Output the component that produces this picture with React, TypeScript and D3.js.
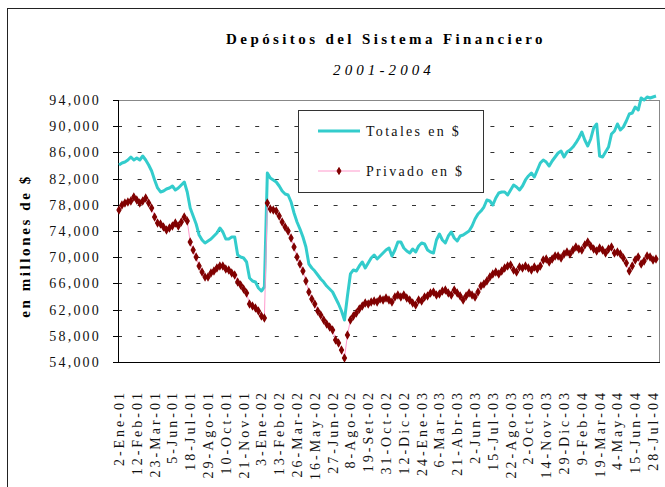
import React from "react";
import * as d3 from "d3";

const W = 665;
const H = 487;

const tickLabels = [
  "2-Ene-01", "12-Feb-01", "23-Mar-01", "5-Jun-01", "18-Jul-01", "29-Ago-01",
  "10-Oct-01", "21-Nov-01", "3-Ene-02", "13-Feb-02", "26-Mar-02", "16-May-02",
  "27-Jun-02", "8-Ago-02", "19-Set-02", "31-Oct-02", "12-Dic-02", "24-Ene-03",
  "6-Mar-03", "21-Abr-03", "2-Jun-03", "15-Jul-03", "22-Ago-03", "2-Oct-03",
  "14-Nov-03", "29-Dic-03", "9-Feb-04", "19-Mar-04", "4-May-04", "15-Jun-04",
  "28-Jul-04",
];
const POINTS_PER_LABEL = 6;

const totales = [
  84080, 84380, 84530, 84840, 85300, 84840, 85150, 84840, 85450, 84840,
  84080, 83160, 81790, 80570, 79960, 80110, 80410, 80570, 80870, 80260,
  80570, 81020, 81480, 79960, 77510, 76290, 75070, 73390, 72630, 72170,
  72470, 72780, 73240, 73700, 74460, 73850, 72780, 72780, 73080, 73080,
  70340, 70030, 69880, 69270, 66830, 66370, 66210, 65300, 64840, 65450,
  82860, 82090, 81790, 81480, 80870, 80110, 79650, 79500, 78430, 76750,
  75380, 74310, 73080, 71560, 68960, 68350, 67890, 67280, 66670, 66210,
  65600, 65150, 64690, 63770, 62860, 61790, 60410, 64080, 67440, 68050,
  67890, 68660, 69270, 68350, 69120, 69880, 70340, 69730, 70180, 70640,
  71100, 71410, 70180, 71100, 72320, 72320, 71410, 70950, 70640, 71250,
  70790, 71710, 72170, 72020, 71100, 70790, 70640, 72630, 73540, 72630,
  72170, 73240, 73850, 72930, 72470, 73240, 73390, 73700, 74000, 74760,
  75830, 76600, 77050, 77660, 78730, 78580, 77970, 79040, 79800, 79960,
  79960, 79500, 80260, 81020, 80720, 80260, 80870, 81790, 82400, 82860,
  82240, 83310, 84380, 84840, 84530, 83920, 84690, 85300, 85910, 86210,
  85300, 86060, 86370, 86820, 87440, 88200, 89110, 87890, 86980, 88050,
  89730, 90340, 85450, 85300, 86060, 86820, 88810, 89270, 90340, 89420,
  89880, 90790, 91860, 92020, 92930, 92470, 94310, 94000, 94460, 94310,
  94460, 94610,
];

const privado = [
  77210, 77970, 78280, 78430, 78580, 79190, 78730, 78280, 78580, 79040,
  78280, 77510, 76140, 75220, 75070, 74610, 74150, 74460, 74760, 75220,
  74760, 75380, 76140, 75530, 72320, 71100, 70030, 68660, 67740, 66980,
  66980, 67590, 67890, 68350, 68660, 68660, 68200, 68050, 67590, 67280,
  66210, 65760, 65150, 64540, 62860, 62550, 62250, 61790, 61020, 60720,
  78280, 77360, 77210, 77050, 76290, 75380, 74610, 74000, 72930, 71560,
  70030, 68960, 67890, 66370, 64690, 63620, 62860, 61790, 61180, 60410,
  59800, 59340, 58890, 57360, 56900, 55830, 54610, 58120, 60410, 61020,
  61480, 62090, 62550, 63010, 62860, 63160, 63310, 63160, 63620, 63470,
  63770, 63470, 63160, 63920, 64230, 63920, 64230, 63770, 63470, 63010,
  62700, 63470, 63310, 63920, 64080, 64540, 64690, 64230, 64380, 64840,
  64990, 64540, 64230, 64990, 64540, 64080, 63470, 64080, 64540, 64230,
  63920, 64690, 65600, 65910, 66370, 66980, 67440, 67740, 67440, 67890,
  68350, 68660, 68810, 68050, 67740, 68500, 68350, 68660, 68350, 68050,
  68500, 68200, 68660, 69570, 69730, 69270, 69730, 70180, 70180, 69880,
  70490, 70790, 70490, 71100, 71560, 71250, 71100, 71860, 72320, 71710,
  71250, 70950, 71410, 71100, 70640, 71250, 71560, 70640, 70790, 70490,
  69880, 69120, 67890, 68660, 69570, 70030, 68960, 69420, 70180, 70030,
  69570, 69730,
];

const yTicks = [54000, 58000, 62000, 66000, 70000, 74000, 78000, 82000, 86000, 90000, 94000];

const TITLE = "Depósitos del Sistema Financiero";
const SUBTITLE = "2001-2004";
const Y_TITLE = "en millones de $";
const SERIES_NAMES = ["Totales en $", "Privado en $"];

const CYAN = "#33CCCC";
const DARKRED = "#800000";
const PINK = "#FF99CC";
const FONT = "'Liberation Serif', 'DejaVu Serif', serif";

const PL = 118, PR = 659, PT = 100, PB = 362;

export default function App() {
  const N = totales.length;
  const x = d3.scaleLinear().domain([0, N - 1]).range([PL + 1, PR - 3]);
  const y = d3.scaleLinear().domain([54000, 94000]).range([PB, PT]);
  const line = d3.line<number>().x((_, i) => x(i)).y((d) => y(d));
  const fmt = d3.format(",");
  const diamond = d3.symbol().type(d3.symbolDiamond).size(14)() as string;

  return (
    <svg
      width={W}
      height={H}
      style={{ position: "absolute", left: 0, top: 0, background: "#fff" }}
      fontFamily={FONT}
    >
      <rect x={7.5} y={8.5} width={700} height={600} fill="#fff" stroke="#222" strokeWidth={1} />
      {/* title */}
      <text x={386} y={44} textAnchor="middle" fontSize={15} fontWeight="bold" letterSpacing={3.4} fill="#000">
        {TITLE}
      </text>
      <text x={384} y={75} textAnchor="middle" fontSize={15} fontStyle="italic" letterSpacing={4.1} fill="#000">
        {SUBTITLE}
      </text>
      {/* y title */}
      <text
        transform={`translate(30,246) rotate(-90)`}
        textAnchor="middle"
        fontSize={15}
        fontWeight="bold"
        letterSpacing={2.6}
        fill="#000"
      >
        {Y_TITLE}
      </text>
      {/* gridlines */}
      {yTicks.filter((t) => t !== 54000 && t !== 94000).map((t) => (
        <line
          key={"g" + t}
          x1={PL}
          x2={PR}
          y1={Math.round(y(t)) + 0.5}
          y2={Math.round(y(t)) + 0.5}
          stroke="#333"
          strokeWidth={1}
          strokeDasharray="4 15.6"
        />
      ))}
      {/* plot border */}
      <line x1={PL} x2={PR} y1={PT + 0.5} y2={PT + 0.5} stroke="#888" />
      <line x1={PR + 0.5} x2={PR + 0.5} y1={PT} y2={PB} stroke="#888" />
      {/* axes */}
      <line x1={PL + 0.5} x2={PL + 0.5} y1={PT} y2={PB + 1} stroke="#000" />
      <line x1={PL} x2={PR + 1} y1={PB + 0.5} y2={PB + 0.5} stroke="#000" />
      {yTicks.map((t) => (
        <g key={"t" + t}>
          <line x1={PL - 5} x2={PL} y1={Math.round(y(t)) + 0.5} y2={Math.round(y(t)) + 0.5} stroke="#000" />
          <text x={101} y={y(t)} dy="0.35em" textAnchor="end" fontSize={14} letterSpacing={2.2} fill="#111">
            {fmt(t)}
          </text>
        </g>
      ))}
      {tickLabels.map((lab, k) => (
        <text
          key={lab}
          transform={`translate(${x(k * POINTS_PER_LABEL)},390) rotate(-90)`}
          textAnchor="end"
          dy="0.35em"
          fontSize={14}
          letterSpacing={3}
          fill="#111"
        >
          {lab}
        </text>
      ))}
      {/* series */}
      <path d={line(totales) || ""} fill="none" stroke={CYAN} strokeWidth={3} strokeLinejoin="round" />
      <path d={line(privado) || ""} fill="none" stroke={PINK} strokeWidth={1} />
      {privado.map((v, i) => (
        <path key={"m" + i} d={diamond} transform={`translate(${x(i)},${y(v)})`} fill={DARKRED} stroke={DARKRED} strokeWidth={1.2} />
      ))}
      {/* legend */}
      <rect x={298.5} y={110.5} width={185} height={82} fill="#fff" stroke="#333" />
      <line x1={318} x2={360} y1={131} y2={131} stroke={CYAN} strokeWidth={3} />
      <text x={366} y={131} dy="0.35em" fontSize={14} letterSpacing={2.3} fill="#111">{SERIES_NAMES[0]}</text>
      <line x1={318} x2={360} y1={171} y2={171} stroke={PINK} strokeWidth={1} />
      <path d={diamond} transform="translate(339,171)" fill={DARKRED} stroke={DARKRED} />
      <text x={366} y={171} dy="0.35em" fontSize={14} letterSpacing={2.3} fill="#111">{SERIES_NAMES[1]}</text>
    </svg>
  );
}
